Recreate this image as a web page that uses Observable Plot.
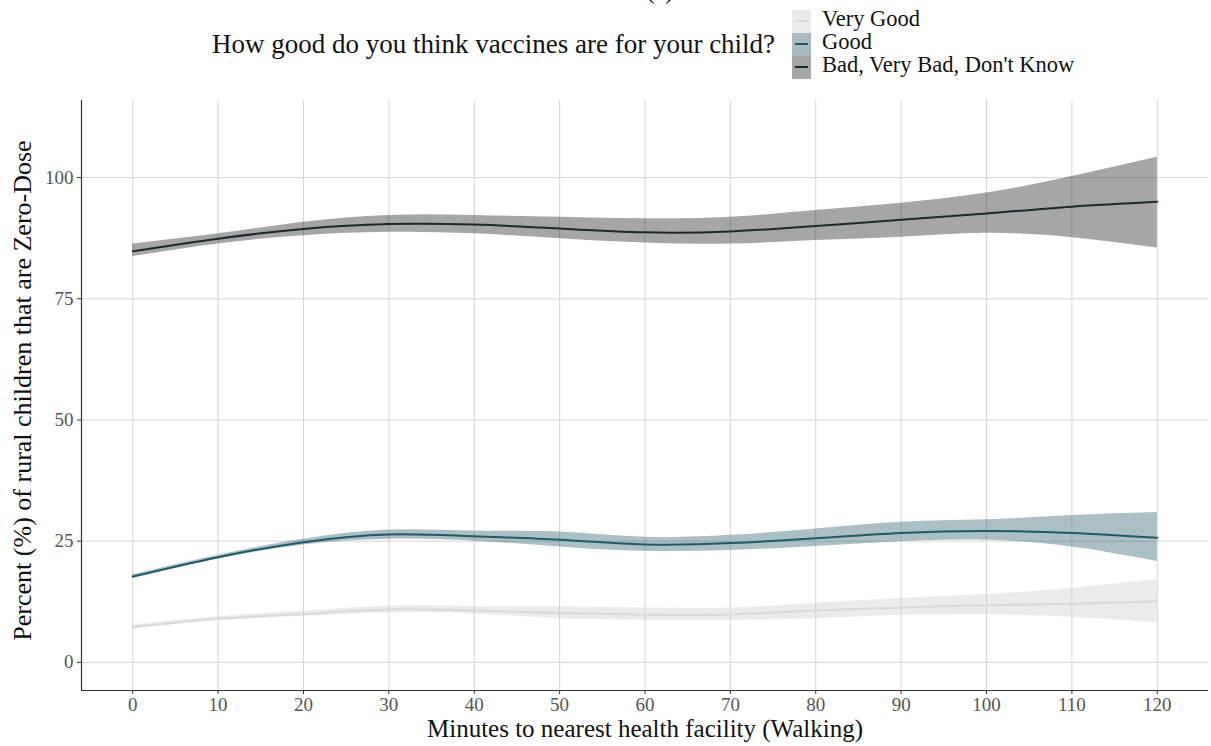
<!DOCTYPE html>
<html>
<head>
<meta charset="utf-8">
<script src="https://cdn.jsdelivr.net/npm/d3@7"></script>
<script src="https://cdn.jsdelivr.net/npm/@observablehq/plot@0.6"></script>
<style>
  body { margin: 0; background: #fff; font-family: "Liberation Serif", "DejaVu Serif", serif; }
  #wrap { position: relative; width: 1211px; height: 746px; overflow: hidden; }
  #head { position: relative; width: 1211px; height: 90px; }
  .ptitle { position: absolute; left: 0; width: 1320px; top: -22px; text-align: center; font-size: 24px; color: #111; }
  .ltitle { position: absolute; left: 212px; top: 29px; font-size: 27px; color: #111; white-space: nowrap; }
  .key { position: absolute; left: 792px; width: 19px; height: 23px; }
  .key span { position: absolute; left: 3px; width: 13px; top: 10px; height: 2px; }
  .lab { position: absolute; left: 822px; font-size: 22.5px; color: #111; white-space: nowrap; }
</style>
</head>
<body>
<div id="wrap">
  <div id="head"></div>
  <div id="chart"></div>
</div>
<script>
const minutes = [0, 10, 20, 30, 40, 50, 60, 70, 80, 90, 100, 110, 120];
const seriesNames = ["Very Good", "Good", "Bad, Very Bad, Don't Know"];

const veryGood   = [7.3, 9.0, 10.0, 10.9, 10.7, 10.2, 9.8, 9.9, 10.7, 11.3, 11.8, 12.1, 12.6];
const veryGoodLo = [6.9, 8.6, 9.5, 10.2, 10.0, 9.0, 8.7, 8.7, 9.0, 9.7, 9.8, 9.3, 8.1];
const veryGoodHi = [7.7, 9.4, 10.6, 11.6, 11.5, 11.4, 11.2, 11.2, 12.2, 13.2, 14.0, 15.3, 17.1];

const good   = [17.7, 21.7, 24.8, 26.4, 26.0, 25.3, 24.3, 24.6, 25.6, 26.7, 27.1, 26.7, 25.7];
const goodLo = [17.3, 21.3, 24.2, 25.4, 25.0, 23.8, 22.9, 23.1, 23.9, 24.9, 25.2, 23.8, 20.8];
const goodHi = [18.1, 22.1, 25.4, 27.3, 27.1, 26.9, 25.8, 26.2, 27.5, 28.9, 29.4, 30.3, 30.9];

const bad   = [84.8, 87.4, 89.4, 90.4, 90.3, 89.5, 88.7, 88.9, 90.0, 91.3, 92.6, 94.0, 95.0];
const badLo = [83.7, 86.3, 88.0, 88.7, 88.4, 87.4, 86.5, 86.3, 87.0, 87.7, 88.5, 87.6, 85.5];
const badHi = [86.3, 88.4, 90.8, 92.2, 92.2, 91.8, 91.5, 91.8, 93.2, 94.7, 96.8, 100.2, 104.2];

const xTicks = [0, 10, 20, 30, 40, 50, 60, 70, 80, 90, 100, 110, 120];
const yTicks = [0, 25, 50, 75, 100];

const lineColors = ["#d9d9d9", "#1f5a66", "#1b2a2a"];
const bandColors = ["#c4c4c4", "#1f5a66", "#000000"];
const bandOpac = [0.34, 0.38, 0.35];
const keyFills = ["#ebebeb", "#a9bbc0", "#a6a6a6"];

const sets = [
  [veryGood, veryGoodLo, veryGoodHi],
  [good, goodLo, goodHi],
  [bad, badLo, badHi]
];
const tables = sets.map((s, k) => minutes.map((m, i) => ({
  series: seriesNames[k], minutes: m, y: s[0][i], lo: s[1][i], hi: s[2][i]
})));

// header (title + legend)
const head = document.getElementById("head");
head.innerHTML = `<div class="ptitle">(c)</div><div class="ltitle">How good do you think vaccines are for your child?</div>` +
  seriesNames.map((n, k) => `<div class="key" style="top:${10 + k * 23}px;background:${keyFills[k]}"><span style="background:${lineColors[k]}"></span></div>` +
    `<div class="lab" style="top:${6 + k * 23}px">${n.replace("'", "&#39;")}</div>`).join("");

const marks = [
  Plot.gridX(xTicks, {stroke: "#d6d6d6", strokeOpacity: 1, strokeWidth: 1}),
  Plot.gridY(yTicks, {stroke: "#d6d6d6", strokeOpacity: 1, strokeWidth: 1}),
];
tables.forEach((t, k) => {
  marks.push(Plot.areaY(t, {x: "minutes", y1: "lo", y2: "hi", fill: bandColors[k], fillOpacity: bandOpac[k], curve: "natural"}));
});
tables.forEach((t, k) => {
  marks.push(Plot.lineY(t, {x: "minutes", y: "y", stroke: lineColors[k], strokeWidth: 2, curve: "natural"}));
});
marks.push(
  Plot.axisX(xTicks, {tickSize: 4, tickPadding: 3, fontSize: 19, color: "#555", stroke: "#333", label: null}),
  Plot.axisY(yTicks, {tickSize: 4, tickPadding: 4, fontSize: 19, color: "#555", stroke: "#333", label: null}),
  Plot.ruleX([-6], {stroke: "#333", strokeWidth: 1.2}),
  Plot.ruleY([-5.8], {stroke: "#333", strokeWidth: 1.2}),
  Plot.text(["Minutes to nearest health facility (Walking)"], {frameAnchor: "bottom", dy: 46, fontSize: 25, fill: "#111"}),
  Plot.text(["Percent (%) of rural children that are Zero-Dose"], {frameAnchor: "left", textAnchor: "middle", dx: -59, dy: -5, rotate: -90, fontSize: 26, fill: "#111"})
);

const chart = Plot.plot({
  width: 1211,
  height: 656,
  marginTop: 10,
  marginBottom: 56,
  marginLeft: 81,
  marginRight: 3,
  style: {fontFamily: "Liberation Serif, DejaVu Serif, serif", background: "#fff"},
  x: {domain: [-6, 126]},
  y: {domain: [-5.8, 115.9]},
  marks
});
document.getElementById("chart").appendChild(chart);
</script>
</body>
</html>
